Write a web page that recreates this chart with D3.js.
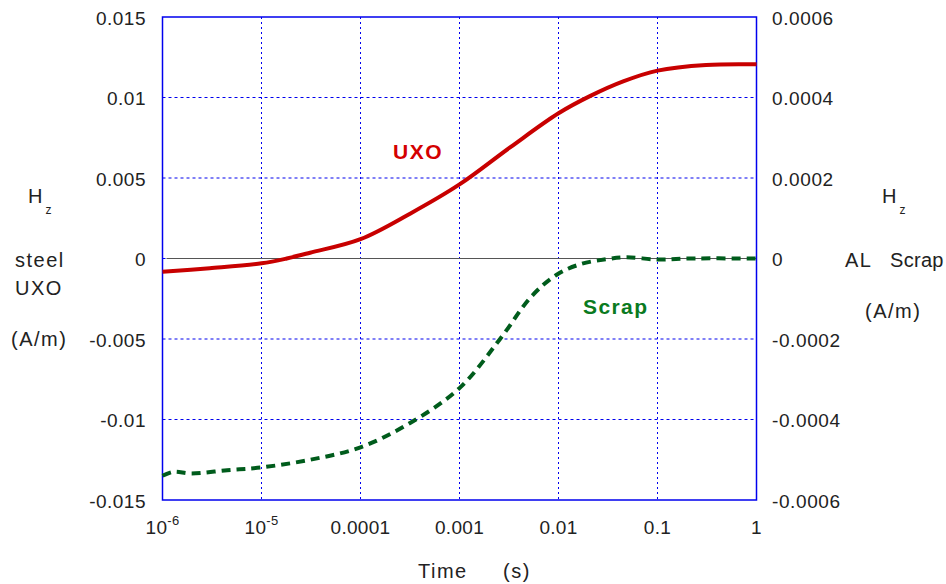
<!DOCTYPE html>
<html>
<head>
<meta charset="utf-8">
<script src="https://cdn.jsdelivr.net/npm/d3@7"></script>
<style>
  body { margin: 0; background: #fff; }
  text { font-family: "Liberation Sans", Arial, sans-serif; fill: #222; }
</style>
</head>
<body>
<svg id="chart" width="946" height="584"></svg>
<script>
// Steel UXO, Hz (A/m) against time (s), left axis
const uxoTimes = [1e-6, 3e-6, 1e-5, 1.8e-5, 3.1e-5, 1e-4, 3.2e-4, 1e-3, 3.24e-3, 1e-2, 2.1e-2, 4.5e-2, 0.1, 0.31, 1];
const uxo = [-0.00082, -0.0006, -0.0003, 0, 0.00036, 0.0012, 0.0028, 0.0046, 0.0069, 0.00902, 0.0101, 0.0110, 0.01167, 0.01202, 0.01206];

// AL scrap, Hz (A/m) against time (s), right axis
const scrapTimes = [1e-6, 1.28e-6, 1.97e-6, 4.5e-6, 1e-5, 3.1e-5, 1e-4, 3.2e-4, 1e-3, 2.57e-3, 5.3e-3, 9.5e-3, 1.65e-2, 3e-2, 4.8e-2, 0.1, 0.2, 1];
const scrap = [-0.00054, -0.00053, -0.000534, -0.000526, -0.000519, -0.0005, -0.000469, -0.000408, -0.000322, -0.0002, -0.000095, -0.000041, -0.0000144, -0.000002, 0.000003, -0.0000025, 0, 0];

const leftTicks = [0.015, 0.01, 0.005, 0, -0.005, -0.01, -0.015];
const rightTicks = [0.0006, 0.0004, 0.0002, 0, -0.0002, -0.0004, -0.0006];
const xTicks = [1e-6, 1e-5, 1e-4, 1e-3, 1e-2, 0.1, 1];
const xTickLabels = ["10^-6", "10^-5", "0.0001", "0.001", "0.01", "0.1", "1"];

const svg = d3.select("#chart");
const margin = { left: 162.5, right: 946 - 756.5, top: 17, bottom: 584 - 500 };
const width = 946 - margin.left - margin.right;
const height = 584 - margin.top - margin.bottom;

const x = d3.scaleLog().domain([1e-6, 1]).range([margin.left, margin.left + width]);
const yL = d3.scaleLinear().domain([-0.015, 0.015]).range([margin.top + height, margin.top]);
const yR = d3.scaleLinear().domain([-0.0006, 0.0006]).range([margin.top + height, margin.top]);

// Grid lines
svg.append("g").selectAll("line")
  .data(leftTicks.slice(1, -1))
  .enter().append("line")
  .attr("x1", margin.left).attr("x2", margin.left + width)
  .attr("y1", d => yL(d)).attr("y2", d => yL(d))
  .attr("stroke", "#0000ee").attr("stroke-width", 1)
  .attr("stroke-dasharray", "3,3");

svg.append("g").selectAll("line")
  .data(xTicks.slice(1, -1))
  .enter().append("line")
  .attr("x1", d => x(d)).attr("x2", d => x(d))
  .attr("y1", margin.top).attr("y2", margin.top + height)
  .attr("stroke", "#0000ee").attr("stroke-width", 1)
  .attr("stroke-dasharray", "2,3");

// Zero line
svg.append("line")
  .attr("x1", margin.left + 4).attr("x2", margin.left + width)
  .attr("y1", yL(0)).attr("y2", yL(0))
  .attr("stroke", "#555").attr("stroke-width", 1);

// Frame
svg.append("rect")
  .attr("x", margin.left).attr("y", margin.top)
  .attr("width", width).attr("height", height)
  .attr("fill", "none").attr("stroke", "#0000ee").attr("stroke-width", 1.5);

// Curves
const line = (ts, yScale) => d3.line()
  .curve(d3.curveCatmullRom.alpha(0.5))
  .x((d, i) => x(ts[i]))
  .y(d => yScale(d));

svg.append("path")
  .datum(uxo)
  .attr("d", line(uxoTimes, yL))
  .attr("fill", "none")
  .attr("stroke", "#c80000")
  .attr("stroke-width", 4);

svg.append("path")
  .datum(scrap)
  .attr("d", line(scrapTimes, yR))
  .attr("fill", "none")
  .attr("stroke", "#005c1c")
  .attr("stroke-width", 4)
  .attr("stroke-dasharray", "9,6");

// Left tick labels
svg.append("g").selectAll("text")
  .data(leftTicks)
  .enter().append("text")
  .attr("x", 146).attr("y", d => yL(d) + 7.5)
  .attr("text-anchor", "end")
  .attr("font-size", 19).attr("letter-spacing", 0.5)
  .text(d => d === 0 ? "0" : String(d));

// Right tick labels
svg.append("g").selectAll("text")
  .data(rightTicks)
  .enter().append("text")
  .attr("x", 772).attr("y", d => yR(d) + 7.5)
  .attr("text-anchor", "start")
  .attr("font-size", 19).attr("letter-spacing", 0.6)
  .text(d => d === 0 ? "0" : d.toFixed(4));

// X tick labels
const xt = svg.append("g").selectAll("text")
  .data(xTicks)
  .enter().append("text")
  .attr("x", d => x(d)).attr("y", 534)
  .attr("text-anchor", "middle")
  .attr("font-size", 19).attr("letter-spacing", 0.3);
xt.each(function (d, i) {
  const label = xTickLabels[i];
  const t = d3.select(this);
  if (label.startsWith("10^")) {
    t.append("tspan").text("10");
    t.append("tspan").attr("dy", -9).attr("font-size", 13).text(label.slice(3));
  } else {
    t.text(label);
  }
});

// Axis titles
function hz(left) {
  const t = svg.append("text").attr("x", left).attr("y", 203).attr("font-size", 20);
  t.append("tspan").text("H");
  t.append("tspan").attr("dx", 3).attr("dy", 11).attr("font-size", 12).text("z");
}
hz(28);
hz(882);

function title(txt, left, base, spacing) {
  svg.append("text").attr("x", left).attr("y", base).attr("font-size", 20)
    .attr("letter-spacing", spacing).text(txt);
}
title("steel", 15, 267, 1.5);
title("UXO", 15, 295, 1.5);
title("(A/m)", 11, 346, 1.5);

title("AL", 845, 267, 1.5);
title("Scrap", 890, 267, 0.3);
title("(A/m)", 865, 318, 1.5);

title("Time", 418, 578, 1.5);
title("(s)", 503, 578, 1.5);

// Series labels
svg.append("text").attr("x", 393).attr("y", 159).attr("font-size", 21).attr("font-weight", "bold")
  .attr("letter-spacing", 1.5).style("fill", "#d40000").text("UXO");
svg.append("text").attr("x", 583).attr("y", 314).attr("font-size", 21).attr("font-weight", "bold")
  .attr("letter-spacing", 1.4).style("fill", "#0a7a20").text("Scrap");
</script>
</body>
</html>
